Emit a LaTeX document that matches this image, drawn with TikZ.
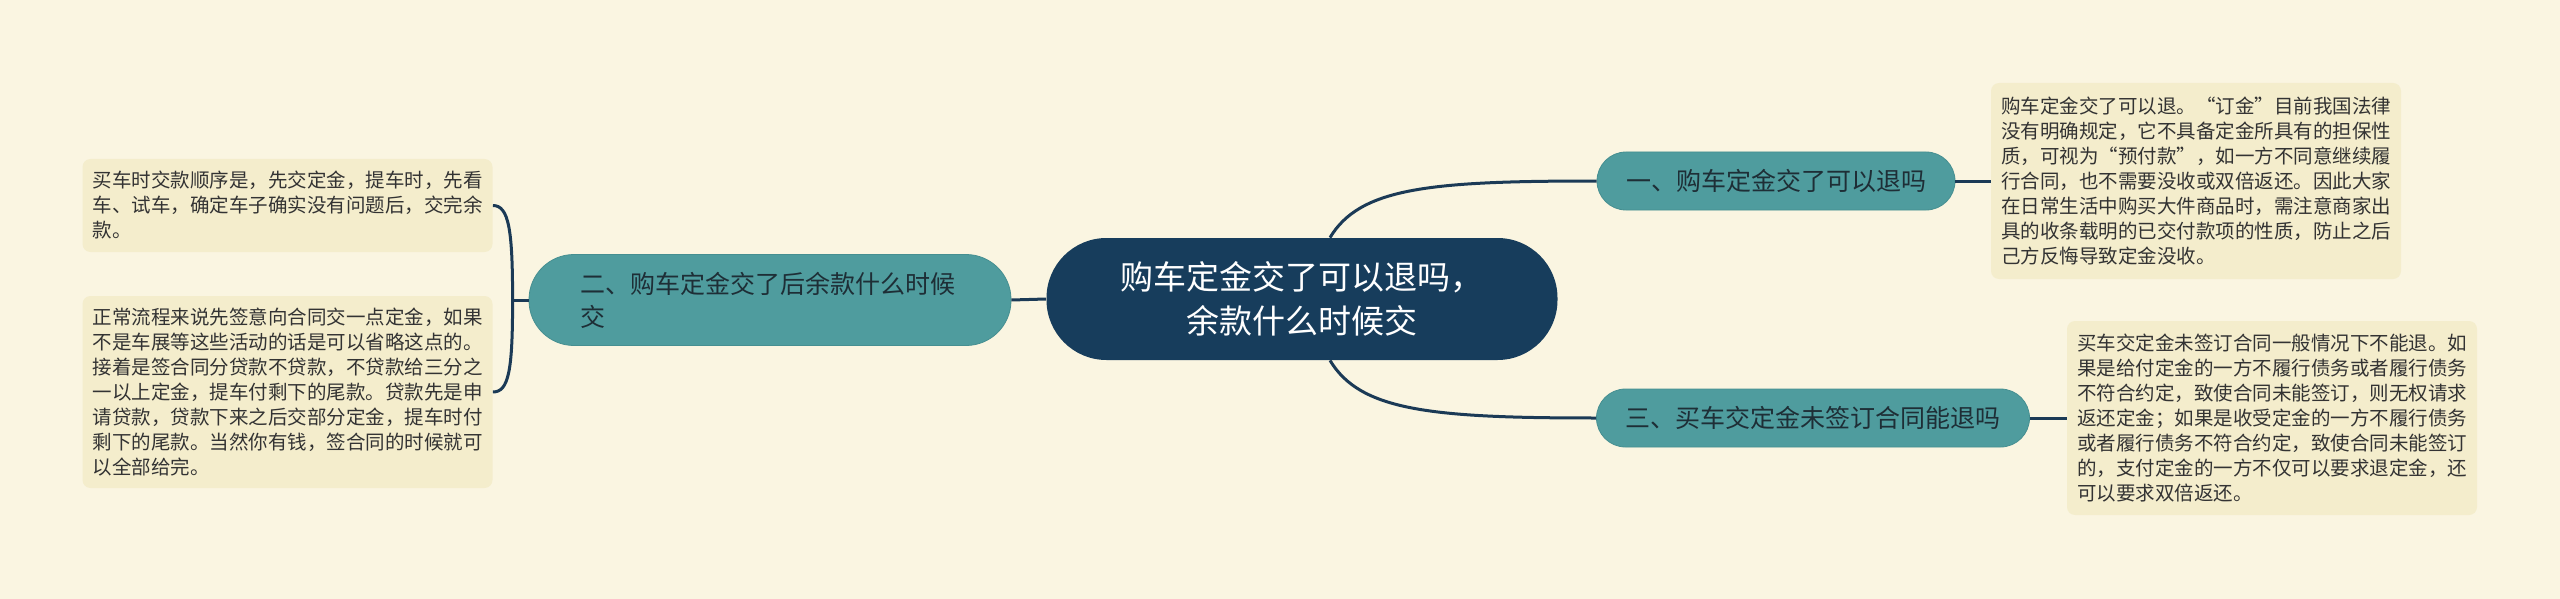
\documentclass[tikz,border=0pt]{standalone}
\usepackage{fontspec}
\setmainfont{Noto Sans CJK SC}
\definecolor{paper}{HTML}{FAF5E1}
\definecolor{notefill}{HTML}{F4EDCC}
\definecolor{rootfill}{HTML}{173D5C}
\definecolor{topicfill}{HTML}{4F9C9E}
\definecolor{topicline}{HTML}{468F91}
\definecolor{linkcol}{HTML}{1B3A56}
\definecolor{ink}{HTML}{1E2E36}
\definecolor{notetext}{HTML}{333333}

\begin{document}
\begin{tikzpicture}[x=0.5pt,y=-0.5pt,
  root/.style={fill=rootfill,text=white,rounded corners=30pt,minimum width=255.5pt,minimum height=61pt,inner sep=0pt,align=center,font=\fontsize{16.5pt}{22pt}\selectfont},
  topic/.style={fill=topicfill,draw=topicline,line width=.4pt,rounded corners=14.5pt,minimum height=29pt,inner sep=0pt,text=ink,font=\fontsize{12.5pt}{16.5pt}\selectfont},
  note/.style={fill=notefill,rounded corners=4pt,text width=195pt,inner xsep=5pt,inner ysep=0pt,align=left,text=notetext,font=\fontsize{9.75pt}{12.5pt}\selectfont},
  link/.style={draw=linkcol,line width=1.5pt}]
\useasboundingbox (0,0) rectangle (2560,599);
\fill[paper] (0,0) rectangle (2560,599);

\node[root] (ctr) at (1302,299) {购车定金交了可以退吗，\\余款什么时候交};
\node[topic,minimum width=179pt] (t1) at (1776,181) {一、购车定金交了可以退吗};
\node[topic,minimum width=241pt,minimum height=45.5pt,rounded corners=22.5pt,text width=190pt,align=left] (t2) at (770,300) {二、购车定金交了后余款什么时候\\交};
\node[topic,minimum width=216.5pt] (t3) at (1813,418) {三、买车交定金未签订合同能退吗};

\node[note,minimum height=46.5pt] (n1) at (287.5,205.5) {买车时交款顺序是，先交定金，提车时，先看\\车、试车，确定车子确实没有问题后，交完余\\款。};
\node[note,minimum height=96pt] (n2) at (287.5,392) {正常流程来说先签意向合同交一点定金，如果\\不是车展等这些活动的话是可以省略这点的。\\接着是签合同分贷款不贷款，不贷款给三分之\\一以上定金，提车付剩下的尾款。贷款先是申\\请贷款，贷款下来之后交部分定金，提车时付\\剩下的尾款。当然你有钱，签合同的时候就可\\以全部给完。};
\node[note,minimum height=98pt] (n3) at (2196,181) {购车定金交了可以退。“订金”目前我国法律\\没有明确规定，它不具备定金所具有的担保性\\质，可视为“预付款”，如一方不同意继续履\\行合同，也不需要没收或双倍返还。因此大家\\在日常生活中购买大件商品时，需注意商家出\\具的收条载明的已交付款项的性质，防止之后\\己方反悔导致定金没收。};
\node[note,minimum height=97pt] (n4) at (2272,418) {买车交定金未签订合同一般情况下不能退。如\\果是给付定金的一方不履行债务或者履行债务\\不符合约定，致使合同未能签订，则无权请求\\返还定金；如果是收受定金的一方不履行债务\\或者履行债务不符合约定，致使合同未能签订\\的，支付定金的一方不仅可以要求退定金，还\\可以要求双倍返还。};
\coordinate (fork) at ([xshift=-8pt]t2.west);

\draw[link] ([xshift=14pt]ctr.north) .. controls +(30,-50) and +(-167,0) .. (t1.west);
\draw[link] ([xshift=14pt]ctr.south) .. controls +(30,50) and +(-167,0) .. (t3.west);
\draw[link] (ctr.west) -- (t2.east);
\draw[link] (t1.east) -- (n3.west);
\draw[link] (t3.east) -- (n4.west);
\draw[link] (t2.west) -- (fork);
\draw[link] (fork) .. controls +(0,-70) and +(16,0) .. (n1.east);
\draw[link] (fork) .. controls +(0,70) and +(16,0) .. (n2.east);
\end{tikzpicture}
\end{document}
